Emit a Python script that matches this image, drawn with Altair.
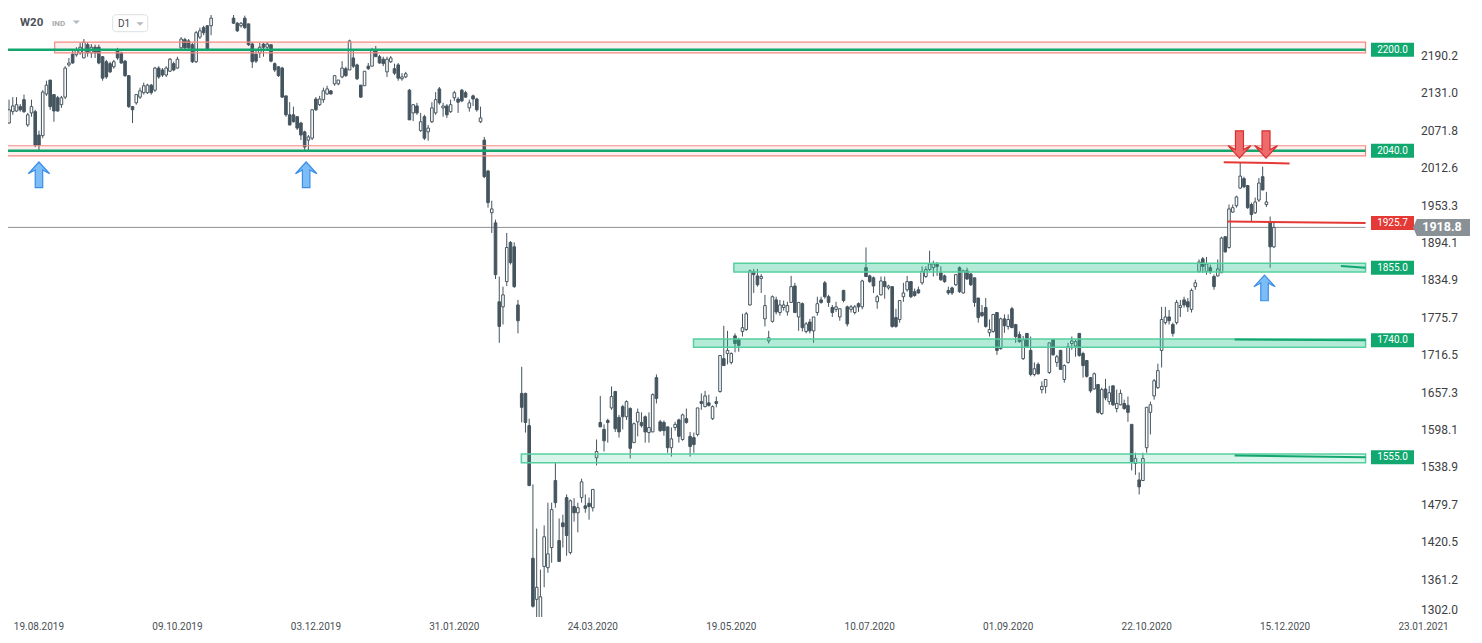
import altair as alt
import pandas as pd

# ---------------- data ----------------
OPEN = [2084, 2102, 2103, 2110, 2121, 2081, 2100, 2102, 2065, 2064,
        2130, 2152, 2129, 2124, 2113, 2125, 2176, 2193, 2192, 2195,
        2187, 2208, 2195, 2204, 2204, 2189, 2181, 2178, 2173, 2200,
        2195, 2182, 2159, 2110, 2116, 2125, 2132, 2132, 2144, 2136,
        2171, 2168, 2160, 2166, 2178, 2171, 2203, 2216, 2214, 2208,
        2181, 2220, 2235, 2238, 2238, 2282, 2290, 2298, 2292, 2287,
        2250, 2242, 2238, 2250, 2241, 2209, 2193, 2195, 2209, 2204,
        2208, 2178, 2173, 2171, 2127, 2097, 2097, 2094, 2084, 2070,
        2057, 2060, 2122, 2113, 2121, 2130, 2135, 2146, 2146, 2157,
        2170, 2168, 2187, 2176, 2144, 2143, 2174, 2174, 2200, 2189,
        2185, 2165, 2181, 2170, 2176, 2154, 2157, 2136, 2100, 2111,
        2072, 2094, 2070, 2086, 2100, 2138, 2108, 2111, 2102, 2124,
        2122, 2136, 2132, 2108, 2127, 2122, 2086, 2057, 2008, 1942,
        1926, 1801, 1793, 1833, 1895, 1888, 1796, 1656, 1656, 1605,
        1395, 1330, 1295, 1382, 1380, 1412, 1518, 1423, 1451, 1491,
        1404, 1477, 1467, 1491, 1478, 1482, 1475, 1554, 1610, 1599,
        1613, 1633, 1659, 1618, 1635, 1619, 1632, 1578, 1611, 1610,
        1619, 1594, 1595, 1681, 1611, 1610, 1603, 1570, 1602, 1614,
        1583, 1616, 1588, 1586, 1591, 1643, 1635, 1641, 1616, 1643,
        1659, 1711, 1719, 1705, 1747, 1741, 1754, 1757, 1796, 1849,
        1842, 1838, 1774, 1739, 1770, 1804, 1784, 1792, 1785, 1800,
        1826, 1777, 1798, 1754, 1769, 1755, 1784, 1804, 1831, 1809,
        1792, 1789, 1777, 1819, 1793, 1789, 1784, 1798, 1793, 1855,
        1842, 1839, 1801, 1812, 1833, 1823, 1825, 1776, 1773, 1809,
        1820, 1833, 1817, 1820, 1831, 1841, 1852, 1855, 1860, 1847,
        1842, 1819, 1823, 1828, 1855, 1815, 1850, 1845, 1839, 1807,
        1784, 1792, 1752, 1754, 1784, 1727, 1774, 1762, 1790, 1765,
        1749, 1711, 1751, 1724, 1686, 1702, 1662, 1667, 1689, 1741,
        1705, 1724, 1678, 1705, 1735, 1731, 1751, 1719, 1708, 1681,
        1663, 1670, 1624, 1663, 1643, 1668, 1632, 1638, 1640, 1637,
        1607, 1545, 1519, 1518, 1570, 1626, 1652, 1665, 1724, 1768,
        1777, 1765, 1768, 1792, 1804, 1801, 1789, 1825, 1849, 1869,
        1849, 1855, 1841, 1842, 1847, 1904, 1887, 1943, 1953, 1981,
        1996, 1985, 1955, 1942, 1962, 1999, 1955, 1926, 1888]

HIGH = [2121, 2125, 2125, 2114, 2129, 2100, 2121, 2105, 2072, 2136,
        2151, 2152, 2129, 2127, 2127, 2174, 2187, 2198, 2204, 2211,
        2217, 2212, 2209, 2208, 2208, 2190, 2184, 2181, 2184, 2203,
        2197, 2184, 2160, 2111, 2130, 2140, 2148, 2146, 2146, 2173,
        2174, 2171, 2174, 2187, 2181, 2189, 2220, 2219, 2217, 2211,
        2230, 2235, 2238, 2239, 2255, 2296, 2302, 2306, 2300, 2295,
        2255, 2244, 2244, 2254, 2241, 2212, 2198, 2211, 2211, 2212,
        2208, 2180, 2174, 2173, 2127, 2117, 2110, 2095, 2086, 2072,
        2065, 2106, 2125, 2127, 2140, 2143, 2136, 2159, 2152, 2182,
        2173, 2216, 2200, 2178, 2144, 2166, 2179, 2203, 2206, 2192,
        2189, 2189, 2190, 2178, 2179, 2163, 2165, 2138, 2114, 2116,
        2100, 2097, 2081, 2117, 2133, 2141, 2116, 2114, 2121, 2135,
        2125, 2138, 2135, 2121, 2129, 2124, 2110, 2062, 2010, 1961,
        1931, 1841, 1825, 1910, 1897, 1895, 1804, 1698, 1657, 1616,
        1512, 1442, 1377, 1447, 1483, 1483, 1546, 1458, 1464, 1496,
        1488, 1490, 1483, 1521, 1496, 1491, 1504, 1583, 1652, 1607,
        1616, 1667, 1660, 1622, 1638, 1645, 1634, 1610, 1632, 1626,
        1621, 1626, 1656, 1686, 1614, 1613, 1603, 1602, 1611, 1616,
        1624, 1632, 1595, 1594, 1633, 1656, 1660, 1654, 1637, 1651,
        1716, 1763, 1755, 1721, 1751, 1744, 1782, 1785, 1852, 1853,
        1853, 1845, 1812, 1755, 1811, 1809, 1804, 1803, 1801, 1842,
        1831, 1800, 1800, 1769, 1774, 1777, 1809, 1809, 1834, 1812,
        1796, 1801, 1790, 1820, 1795, 1796, 1796, 1800, 1836, 1887,
        1844, 1841, 1812, 1841, 1841, 1828, 1825, 1790, 1803, 1831,
        1842, 1834, 1822, 1825, 1857, 1857, 1882, 1866, 1864, 1857,
        1844, 1825, 1825, 1845, 1857, 1852, 1855, 1847, 1839, 1807,
        1796, 1807, 1773, 1781, 1784, 1776, 1781, 1781, 1793, 1766,
        1754, 1747, 1751, 1746, 1705, 1705, 1675, 1678, 1736, 1741,
        1717, 1725, 1702, 1736, 1746, 1741, 1751, 1722, 1709, 1682,
        1689, 1671, 1665, 1679, 1668, 1668, 1662, 1662, 1646, 1651,
        1607, 1562, 1531, 1562, 1634, 1643, 1679, 1703, 1793, 1793,
        1788, 1768, 1804, 1804, 1809, 1807, 1822, 1836, 1868, 1872,
        1872, 1860, 1844, 1868, 1904, 1905, 1955, 1955, 1969, 2021,
        1999, 1986, 1958, 1966, 1997, 2015, 1975, 1936, 1929]

LOW = [2083, 2097, 2102, 2102, 2100, 2078, 2094, 2046, 2040, 2060,
       2127, 2105, 2086, 2102, 2108, 2122, 2173, 2178, 2189, 2192,
       2187, 2189, 2187, 2187, 2177, 2151, 2154, 2163, 2170, 2184,
       2178, 2157, 2108, 2084, 2113, 2122, 2129, 2130, 2129, 2133,
       2154, 2157, 2157, 2165, 2166, 2170, 2201, 2200, 2201, 2179,
       2179, 2217, 2223, 2198, 2223, 2280, 2284, 2288, 2283, 2281,
       2241, 2228, 2235, 2233, 2206, 2171, 2179, 2187, 2189, 2200,
       2180, 2165, 2157, 2124, 2094, 2080, 2085, 2073, 2057, 2041,
       2040, 2057, 2103, 2111, 2116, 2129, 2129, 2143, 2144, 2155,
       2157, 2168, 2171, 2152, 2124, 2143, 2168, 2174, 2189, 2178,
       2174, 2157, 2179, 2160, 2151, 2151, 2155, 2089, 2087, 2097,
       2070, 2057, 2056, 2084, 2097, 2113, 2094, 2092, 2100, 2119,
       2100, 2117, 2124, 2102, 2111, 2102, 2084, 1997, 1950, 1910,
       1837, 1736, 1765, 1826, 1860, 1823, 1751, 1610, 1594, 1510,
       1317, 1301, 1282, 1349, 1372, 1388, 1475, 1390, 1412, 1399,
       1401, 1453, 1436, 1483, 1467, 1456, 1469, 1542, 1603, 1564,
       1578, 1630, 1595, 1586, 1599, 1614, 1553, 1578, 1588, 1602,
       1578, 1578, 1595, 1640, 1595, 1589, 1562, 1556, 1597, 1578,
       1581, 1608, 1556, 1562, 1588, 1630, 1634, 1635, 1614, 1634,
       1657, 1700, 1702, 1702, 1721, 1722, 1746, 1755, 1795, 1815,
       1825, 1815, 1762, 1735, 1768, 1781, 1779, 1787, 1779, 1800,
       1784, 1755, 1754, 1751, 1751, 1736, 1779, 1798, 1806, 1793,
       1777, 1785, 1771, 1800, 1762, 1784, 1781, 1785, 1789, 1841,
       1831, 1815, 1790, 1811, 1806, 1820, 1760, 1760, 1768, 1801,
       1817, 1807, 1809, 1814, 1828, 1839, 1850, 1841, 1842, 1834,
       1831, 1812, 1812, 1826, 1815, 1814, 1836, 1826, 1793, 1768,
       1777, 1760, 1746, 1752, 1717, 1725, 1752, 1757, 1760, 1736,
       1736, 1709, 1728, 1683, 1683, 1686, 1656, 1656, 1687, 1716,
       1698, 1694, 1673, 1703, 1725, 1714, 1714, 1681, 1681, 1657,
       1662, 1624, 1622, 1645, 1638, 1636, 1626, 1637, 1630, 1611,
       1534, 1527, 1496, 1518, 1562, 1591, 1646, 1663, 1697, 1765,
       1765, 1746, 1765, 1777, 1792, 1785, 1784, 1820, 1847, 1847,
       1844, 1845, 1820, 1841, 1847, 1879, 1885, 1942, 1950, 1980,
       1981, 1948, 1928, 1940, 1959, 1978, 1951, 1855, 1886]

CLOSE = [2105, 2111, 2113, 2105, 2102, 2097, 2110, 2049, 2049, 2133,
         2144, 2110, 2103, 2103, 2124, 2171, 2179, 2179, 2200, 2204,
         2212, 2195, 2204, 2195, 2179, 2155, 2157, 2165, 2181, 2187,
         2179, 2159, 2110, 2105, 2129, 2135, 2143, 2144, 2132, 2171,
         2157, 2160, 2171, 2185, 2168, 2185, 2217, 2203, 2203, 2181,
         2227, 2230, 2227, 2200, 2250, 2290, 2298, 2292, 2287, 2285,
         2242, 2230, 2242, 2235, 2208, 2181, 2182, 2204, 2204, 2209,
         2182, 2168, 2159, 2125, 2097, 2081, 2086, 2076, 2065, 2046,
         2062, 2105, 2105, 2122, 2135, 2138, 2130, 2159, 2152, 2171,
         2159, 2214, 2174, 2154, 2125, 2166, 2170, 2200, 2189, 2179,
         2178, 2185, 2187, 2163, 2155, 2157, 2162, 2089, 2113, 2100,
         2086, 2060, 2076, 2108, 2121, 2116, 2111, 2097, 2113, 2132,
         2117, 2119, 2125, 2116, 2122, 2105, 2092, 1999, 1958, 1948,
         1844, 1762, 1812, 1887, 1863, 1825, 1771, 1634, 1610, 1510,
         1319, 1349, 1334, 1429, 1402, 1472, 1483, 1390, 1445, 1431,
         1486, 1467, 1475, 1516, 1474, 1477, 1504, 1564, 1603, 1581,
         1610, 1651, 1600, 1595, 1619, 1643, 1569, 1608, 1626, 1605,
         1595, 1602, 1654, 1648, 1597, 1597, 1570, 1584, 1607, 1588,
         1622, 1610, 1572, 1575, 1633, 1640, 1652, 1637, 1635, 1640,
         1716, 1700, 1724, 1719, 1735, 1732, 1760, 1782, 1850, 1844,
         1828, 1841, 1795, 1744, 1809, 1785, 1796, 1796, 1795, 1825,
         1784, 1800, 1760, 1766, 1755, 1777, 1798, 1800, 1809, 1800,
         1784, 1793, 1790, 1803, 1766, 1793, 1793, 1793, 1834, 1841,
         1833, 1826, 1809, 1834, 1825, 1826, 1762, 1762, 1803, 1815,
         1833, 1809, 1811, 1815, 1849, 1852, 1861, 1861, 1857, 1836,
         1833, 1815, 1815, 1844, 1817, 1850, 1837, 1828, 1800, 1776,
         1779, 1762, 1757, 1781, 1724, 1774, 1763, 1773, 1760, 1746,
         1738, 1741, 1730, 1686, 1695, 1687, 1667, 1678, 1736, 1717,
         1714, 1694, 1700, 1730, 1739, 1738, 1716, 1700, 1683, 1660,
         1687, 1626, 1662, 1649, 1657, 1638, 1640, 1656, 1632, 1626,
         1548, 1553, 1508, 1553, 1634, 1638, 1676, 1692, 1773, 1777,
         1771, 1751, 1800, 1795, 1796, 1793, 1819, 1831, 1864, 1857,
         1861, 1849, 1825, 1853, 1902, 1880, 1948, 1950, 1967, 2000,
         1983, 1950, 1939, 1959, 1989, 1978, 1959, 1888, 1918.8]

X_TICK_INDEX = [8, 45, 82, 119, 156, 193, 230, 267, 304, 341, 378]
X_TICK_LABELS = ["19.08.2019", "09.10.2019", "03.12.2019", "31.01.2020", "24.03.2020",
                 "19.05.2020", "10.07.2020", "01.09.2020", "22.10.2020", "15.12.2020",
                 "23.01.2021"]
Y_TICKS = [2190.2, 2131.0, 2071.8, 2012.6, 1953.3, 1894.1, 1834.9, 1775.7,
           1716.5, 1657.3, 1598.1, 1538.9, 1479.7, 1420.5, 1361.2, 1302.0]

LEVELS = [2200.0, 2040.0, 1925.7, 1855.0, 1740.0, 1555.0]
LEVEL_KIND = ["g", "g", "r", "g", "g", "g"]
LAST_PRICE = 1918.8

# support zones (green)
GZ_START = [193.7, 182.9, 136.9]
GZ_LOW = [1848.0, 1729.0, 1546.0]
GZ_HIGH = [1862.0, 1742.0, 1560.0]
GZ_ALPHA = [0.35, 0.35, 0.18]
# resistance zones (red)
RZ_START = [12.2, -10.0]
RZ_LOW = [2195.0, 2032.0]
RZ_HIGH = [2212.0, 2048.0]
ZONE_END = 362.5

# green horizontal level lines
GL_LEVEL = [2200.0, 2040.0]
# red drawn lines
RL_X1 = [324.6, 325.6]
RL_X2 = [342.2, 362.5]
RL_Y1 = [2022.0, 1928.1]
RL_Y2 = [2020.0, 1925.7]
# short green lines
SG_X1 = [355.9, 327.5, 327.5]
SG_Y1 = [1857.5, 1741.5, 1557.5]
SG_Y2 = [1855.0, 1740.0, 1555.0]

UP_ARROW_I = [8.0, 79.4, 335.5]
UP_ARROW_P = [2002.0, 2002.0, 1823.0]
DOWN_ARROW_I = [328.8, 335.9]
DOWN_ARROW_P = [2050.0, 2050.0]

# ---------------- styling ----------------
DARK = "#45555f"
GREEN = "#13a66f"
RED = "#e53935"
FONT = "Roboto"

W, H = 1462, 609
XS = alt.Scale(domain=[1.0616, 389.07], nice=False, zero=False)
YS = alt.Scale(domain=[1302.0, 2266.1], nice=False, zero=False)

UP_PATH = "M0,-1.2L1,-0.1L0.35,-0.45L0.35,1.2L-0.35,1.2L-0.35,-0.45L-1,-0.1Z"
DOWN_PATH = "M0,1.2L1,0.1L0.35,0.45L0.35,-1.2L-0.35,-1.2L-0.35,0.45L-1,0.1Z"
BOX_PATH = "M-3.07,-1H3.07V1H-3.07Z"
TAG_PATH = "M-3.35,0L-2.9,-1L3.35,-1L3.35,1L-2.9,1Z"
TRI_PATH = "M-1,-0.5L1,-0.5L0,0.5Z"

# ---------------- frames ----------------
candles = pd.DataFrame({"i": list(range(len(OPEN))), "open": OPEN, "high": HIGH,
                        "low": LOW, "close": CLOSE})
gz = pd.DataFrame({"x1": GZ_START, "x2": [ZONE_END] * len(GZ_START), "lo": GZ_LOW,
                   "hi": GZ_HIGH, "a": GZ_ALPHA})
rz = pd.DataFrame({"x1": RZ_START, "x2": [ZONE_END] * len(RZ_START), "lo": RZ_LOW, "hi": RZ_HIGH})
gl = pd.DataFrame({"x1": [-10.0] * len(GL_LEVEL), "x2": [ZONE_END] * len(GL_LEVEL), "y": GL_LEVEL})
last = pd.DataFrame({"x1": [-10.0], "x2": [ZONE_END], "y": [LAST_PRICE], "t": [f"{LAST_PRICE:.1f}"]})
rl = pd.DataFrame({"x1": RL_X1, "x2": RL_X2, "y1": RL_Y1, "y2": RL_Y2})
sg = pd.DataFrame({"x1": SG_X1, "x2": [ZONE_END] * len(SG_X1), "y1": SG_Y1, "y2": SG_Y2})
lv = pd.DataFrame({"y": LEVELS, "k": LEVEL_KIND, "t": [f"{v:.1f}" for v in LEVELS]})
yt_main = pd.DataFrame({"y": Y_TICKS[:-1], "t": [f"{v:.1f}" for v in Y_TICKS[:-1]]})
yt_last = pd.DataFrame({"y": Y_TICKS[-1:], "t": [f"{v:.1f}" for v in Y_TICKS[-1:]]})
xt = pd.DataFrame({"i": X_TICK_INDEX, "t": X_TICK_LABELS})
ua = pd.DataFrame({"i": UP_ARROW_I, "p": UP_ARROW_P})
da = pd.DataFrame({"i": DOWN_ARROW_I, "p": DOWN_ARROW_P})
one = pd.DataFrame({"k": [0]})


def X(f):
    return alt.X(f, scale=XS, axis=None, title=None)


def Y(f):
    return alt.Y(f, scale=YS, axis=None, title=None)


layers = []

# red zones fill (behind)
layers.append(alt.Chart(rz).mark_rect(clip=True, color="#f28b82", opacity=0.13).encode(
    x=X("x1:Q"), x2="x2:Q", y=Y("lo:Q"), y2="hi:Q"))
# last price line
layers.append(alt.Chart(last).mark_rule(clip=True, color="#8c9094", strokeWidth=1).encode(
    x=X("x1:Q"), x2="x2:Q", y=Y("y:Q")))
# candles
layers.append(alt.Chart(candles).mark_rule(color=DARK, strokeWidth=1, clip=True).encode(
    x=X("i:Q"), y=Y("low:Q"), y2="high:Q"))
layers.append(alt.Chart(candles).mark_bar(width=2.6, stroke=DARK, strokeWidth=1, clip=True).encode(
    x=X("i:Q"), y=Y("open:Q"), y2="close:Q",
    fill=alt.condition("datum.close > datum.open", alt.value("#ffffff"), alt.value(DARK))))
# green zones (translucent, on top)
layers.append(alt.Chart(gz).mark_rect(clip=True, color="#26c690").encode(
    x=X("x1:Q"), x2="x2:Q", y=Y("lo:Q"), y2="hi:Q",
    opacity=alt.Opacity("a:Q", scale=None, legend=None)))
layers.append(alt.Chart(gz).mark_rect(clip=True, fillOpacity=0, stroke="#55cf9f", strokeWidth=1.5).encode(
    x=X("x1:Q"), x2="x2:Q", y=Y("lo:Q"), y2="hi:Q"))
# red zones outline
layers.append(alt.Chart(rz).mark_rect(clip=True, fillOpacity=0, stroke="#f28b82", strokeWidth=1.2).encode(
    x=X("x1:Q"), x2="x2:Q", y=Y("lo:Q"), y2="hi:Q"))
# green level lines
layers.append(alt.Chart(gl).mark_rule(clip=True, color=GREEN, strokeWidth=2.5).encode(
    x=X("x1:Q"), x2="x2:Q", y=Y("y:Q")))
# red drawn lines
layers.append(alt.Chart(rl).mark_rule(clip=True, color=RED, strokeWidth=2).encode(
    x=X("x1:Q"), x2="x2:Q", y=Y("y1:Q"), y2="y2:Q"))
# short green lines
layers.append(alt.Chart(sg).mark_rule(clip=True, color=GREEN, strokeWidth=2).encode(
    x=X("x1:Q"), x2="x2:Q", y=Y("y1:Q"), y2="y2:Q"))
# level boxes + text
layers.append(alt.Chart(lv).mark_point(shape=BOX_PATH, filled=True, size=196, opacity=1).encode(
    x=alt.value(1384.5), y=Y("y:Q"),
    color=alt.Color("k:N", scale=alt.Scale(domain=["g", "r"], range=["#10a86e", RED]), legend=None)))
layers.append(alt.Chart(lv).mark_text(color="white", fontSize=10, font=FONT, align="center",
                                       baseline="middle").encode(
    x=alt.value(1384.5), y=Y("y:Q"), text="t:N"))
# price axis labels
layers.append(alt.Chart(yt_main).mark_text(color="#3c4043", fontSize=12, font=FONT, align="left",
                                           baseline="middle").encode(
    x=alt.value(1413), y=Y("y:Q"), text="t:N"))
layers.append(alt.Chart(yt_last).mark_text(color="#3c4043", fontSize=12, font=FONT, align="left",
                                           baseline="bottom").encode(
    x=alt.value(1413), y=Y("y:Q"), text="t:N"))
# date axis labels
layers.append(alt.Chart(xt).mark_text(color="#4a4f55", fontSize=10, font=FONT, align="center",
                                      baseline="middle").encode(
    x=X("i:Q"), y=alt.value(H + 10), text="t:N"))
# last price tag
layers.append(alt.Chart(last).mark_point(shape=TAG_PATH, filled=True, size=289, opacity=1,
                                         color="#8a9196").encode(
    x=alt.value(1433.5), y=Y("y:Q")))
layers.append(alt.Chart(last).mark_text(color="white", fontSize=12.5, fontWeight="bold", font=FONT,
                                        align="center", baseline="middle").encode(
    x=alt.value(1434), y=Y("y:Q"), text="t:N"))
# arrows
layers.append(alt.Chart(ua).mark_point(shape=UP_PATH, filled=True, size=458, opacity=1,
                                       fill="#7dbdf7", stroke="#3a8ee8", strokeWidth=1.2).encode(
    x=X("i:Q"), y=Y("p:Q")))
layers.append(alt.Chart(da).mark_point(shape=DOWN_PATH, filled=True, size=520, opacity=1,
                                       fill="#ef6a6a", stroke="#d63031", strokeWidth=1.2).encode(
    x=X("i:Q"), y=Y("p:Q")))
# header
layers.append(alt.Chart(one).mark_text(text="W20", align="left", baseline="middle", fontSize=11.5,
                                       fontWeight="bold", font=FONT, color="#4b5157").encode(
    x=alt.value(12), y=alt.value(15)))
layers.append(alt.Chart(one).mark_text(text="IND", align="left", baseline="middle", fontSize=8,
                                       fontWeight="bold", font=FONT, color="#a6aaae").encode(
    x=alt.value(44), y=alt.value(16)))
layers.append(alt.Chart(one).mark_rect(fill="white", stroke="#dde0e3", strokeWidth=1, cornerRadius=3).encode(
    x=alt.value(104.7), x2=alt.value(139.7), y=alt.value(6.7), y2=alt.value(23.7)))
layers.append(alt.Chart(one).mark_text(text="D1", align="left", baseline="middle", fontSize=10,
                                       font=FONT, color="#43484e").encode(
    x=alt.value(110), y=alt.value(16)))
layers.append(alt.Chart(one).mark_point(shape=TRI_PATH, filled=True, size=49, opacity=1,
                                        color="#b4b8bc").encode(x=alt.value(68.3), y=alt.value(14.3)))
layers.append(alt.Chart(one).mark_point(shape=TRI_PATH, filled=True, size=49, opacity=1,
                                        color="#b4b8bc").encode(x=alt.value(132.0), y=alt.value(16.0)))

chart = alt.layer(*layers).properties(width=W, height=H, padding=0).configure(
    background="white").configure_view(stroke="transparent", strokeWidth=0)

chart.save("out.html", embed_options={"renderer": "svg", "actions": False})
